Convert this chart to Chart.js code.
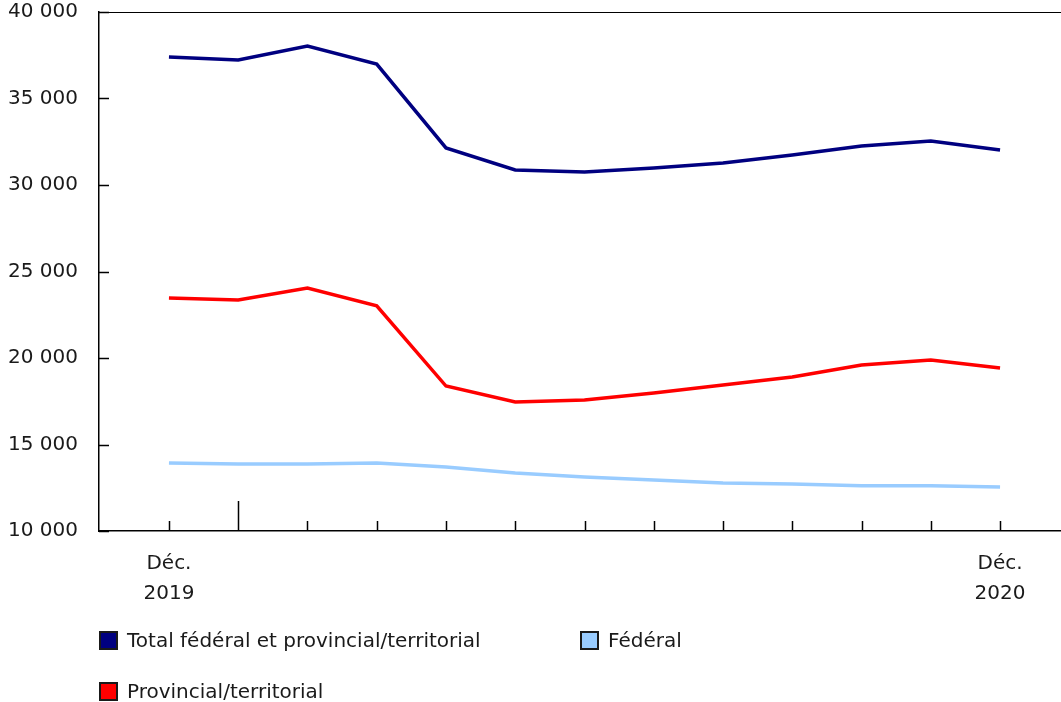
<!DOCTYPE html>
<html>
<head>
<meta charset="utf-8">
<script src="https://cdn.jsdelivr.net/npm/chart.js@4.4.1/dist/chart.umd.min.js"></script>
<style>
  html, body { margin: 0; padding: 0; background: #fff; }
  #wrap { position: relative; width: 1061px; height: 702px; font-family: "DejaVu Sans", Verdana, sans-serif; }
  #chart { position: absolute; left: 0; top: 0; }
  .leg { position: absolute; font-size: 20px; color: #1a1a1a; line-height: 22px; white-space: nowrap; }
  .leg i { display: inline-block; width: 19px; height: 19px; border: 2px solid #1a1a1a; vertical-align: -3px; margin-right: 9px; box-sizing: border-box; }
</style>
</head>
<body>
<div id="wrap">
  <canvas id="chart" width="1061" height="702"></canvas>
  <div id="legend"></div>
</div>
<script>
const mois = ['Déc. 2019', 'Janv.', 'Févr.', 'Mars', 'Avr.', 'Mai', 'Juin', 'Juil.', 'Août', 'Sept.', 'Oct.', 'Nov.', 'Déc. 2020'];
const tickLabels = [['Déc.', '2019'], '', '', '', '', '', '', '', '', '', '', '', ['Déc.', '2020']];
const total = [37400, 37230, 38030, 36990, 32140, 30870, 30750, 30980, 31270, 31730, 32250, 32540, 32020];
const provincial = [23470, 23350, 24050, 23010, 18380, 17460, 17570, 17980, 18440, 18900, 19600, 19880, 19420];
const federal = [13930, 13880, 13880, 13930, 13700, 13350, 13120, 12950, 12780, 12720, 12610, 12610, 12550];
const yTicks = [10000, 15000, 20000, 25000, 30000, 35000, 40000];

const series = [
    { label: 'Total fédéral et provincial/territorial', data: total, color: '#000080' },
    { label: 'Fédéral', data: federal, color: '#99ccff' },
    { label: 'Provincial/territorial', data: provincial, color: '#ff0000' }
];

const fmt = v => String(v).replace(/\B(?=(\d{3})+(?!\d))/g, ' ');

// ticks drawn inside the plot, plus the top border line
const innerTicks = {
    id: 'innerTicks',
    afterDraw(chart) {
        const { ctx, chartArea: a, scales: { x, y } } = chart;
        ctx.save();
        ctx.strokeStyle = '#000';
        ctx.lineWidth = 1.5;
        ctx.beginPath();
        yTicks.forEach(v => {
            const py = Math.round(y.getPixelForValue(v)) + 0.5;
            ctx.moveTo(a.left, py);
            ctx.lineTo(a.left + 10, py);
        });
        mois.forEach((m, i) => {
            const px = Math.round(x.getPixelForValue(i)) + 0.5;
            ctx.moveTo(px, a.bottom);
            ctx.lineTo(px, a.bottom - (i === 1 ? 30 : 10));
        });
        ctx.stroke();
        ctx.lineWidth = 1;
        ctx.beginPath();
        ctx.moveTo(a.left, a.top + 0.5);
        ctx.lineTo(a.right, a.top + 0.5);
        ctx.stroke();
        ctx.restore();
    }
};

new Chart(document.getElementById('chart'), {
    type: 'line',
    data: {
        datasets: series.map(s => ({
            label: s.label,
            data: s.data.map((v, i) => ({ x: i, y: v })),
            borderColor: s.color,
            backgroundColor: s.color,
            borderWidth: 3.5,
            pointRadius: 0,
            tension: 0
        }))
    },
    options: {
        responsive: false,
        animation: false,
        layout: { padding: { top: 12, right: 0, bottom: 0, left: 0 } },
        plugins: { legend: { display: false }, tooltip: { enabled: false } },
        scales: {
            x: {
                type: 'linear',
                min: -1.01,
                max: 12.88,
                afterBuildTicks: s => { s.ticks = mois.map((m, i) => ({ value: i })); },
                afterFit: s => { s.height = 171; s.paddingLeft = 0; s.paddingRight = 0; },
                grid: { display: false, drawTicks: false },
                border: { color: '#000', width: 1.5 },
                ticks: {
                    autoSkip: false,
                    maxRotation: 0,
                    padding: 18,
                    color: '#1a1a1a',
                    font: { family: '"DejaVu Sans", Verdana, sans-serif', size: 20, lineHeight: 1.5 },
                    callback: (v, i) => tickLabels[i]
                }
            },
            y: {
                min: 10000,
                max: 40000,
                afterBuildTicks: s => { s.ticks = yTicks.map(v => ({ value: v })); },
                afterFit: s => { s.width = 99; s.paddingTop = 0; s.paddingBottom = 0; },
                grid: { display: false, drawTicks: false },
                border: { color: '#000', width: 1.5 },
                ticks: {
                    padding: 21,
                    color: '#1a1a1a',
                    font: { family: '"DejaVu Sans", Verdana, sans-serif', size: 20 },
                    callback: v => fmt(v)
                }
            }
        }
    },
    plugins: [innerTicks]
});

const legendPos = [[99, 629], [580, 629], [99, 680]];
document.getElementById('legend').innerHTML = series.map((s, i) =>
    `<div class="leg" style="left:${legendPos[i][0]}px;top:${legendPos[i][1]}px"><i style="background:${s.color}"></i>${s.label}</div>`
).join('');
</script>
</body>
</html>
